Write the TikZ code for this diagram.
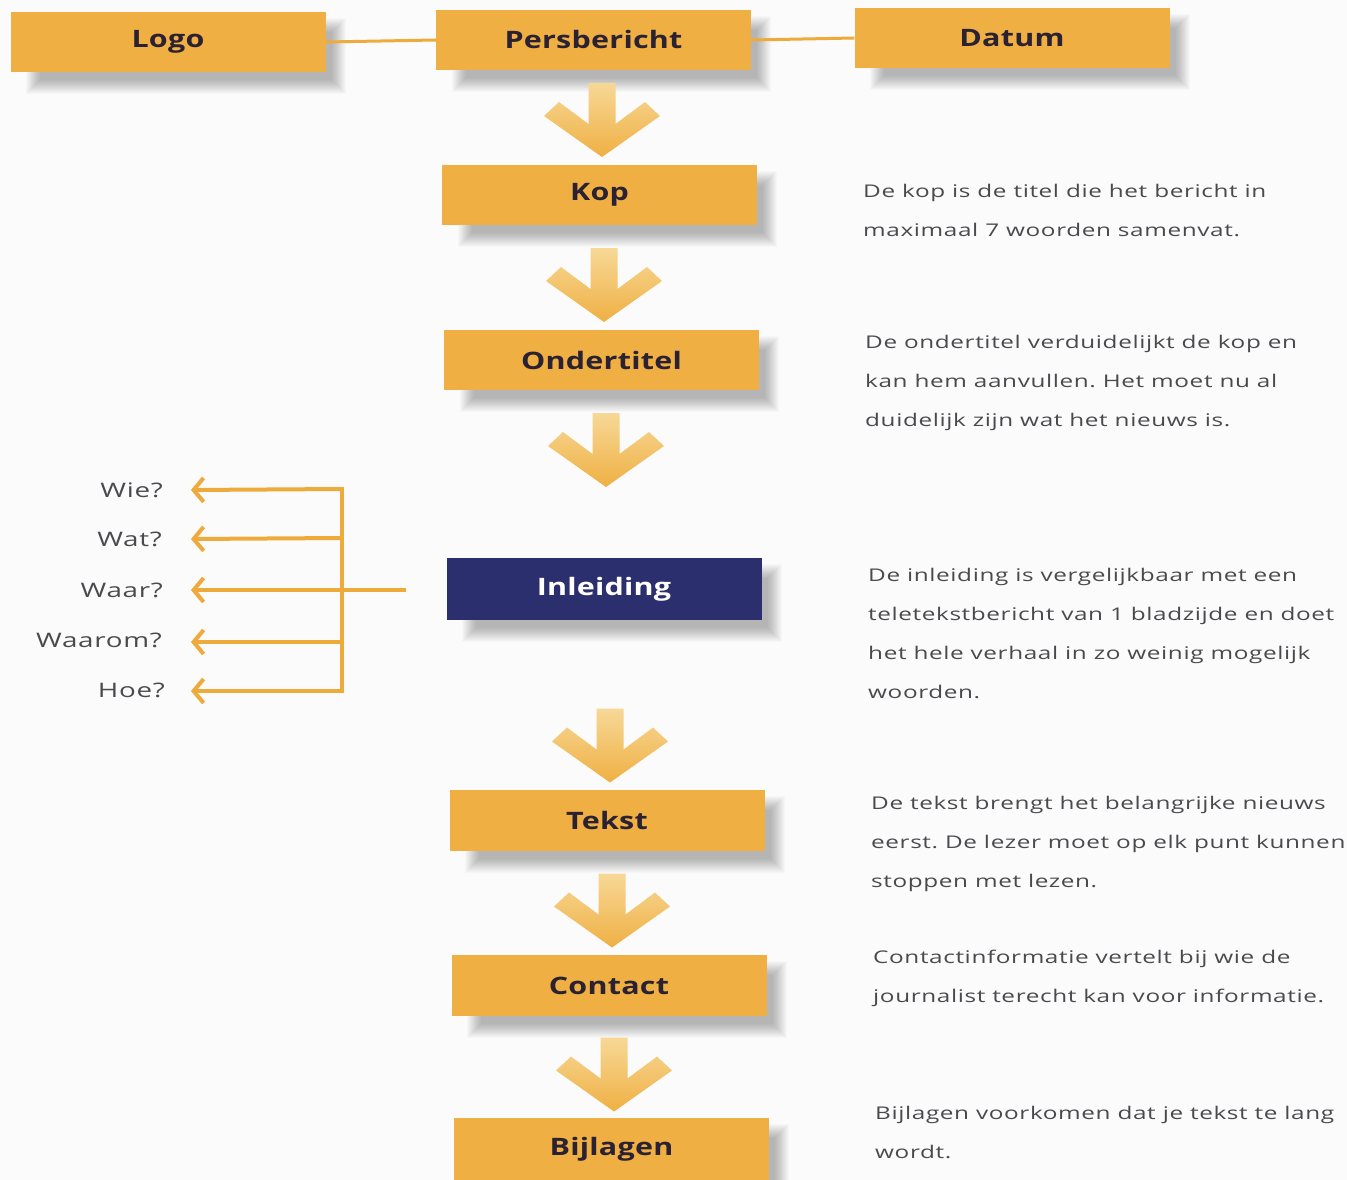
\documentclass[tikz,border=0pt]{standalone}
\usepackage{fontspec}
\setmainfont{Open Sans}
\newfontfamily\widefont[FakeStretch=1.39, LetterSpace=3.5]{Open Sans}
\newfontfamily\boxfont[FakeStretch=1.27, LetterSpace=1]{Open Sans}
\usetikzlibrary{arrows.meta,calc,backgrounds}
\definecolor{bg}{HTML}{FBFBFB}
\definecolor{boxor}{HTML}{F0AF42}
\definecolor{lineor}{HTML}{EFAA3C}
\definecolor{navy}{HTML}{2C2F6E}
\definecolor{labelc}{HTML}{2A2233}
\definecolor{txt}{HTML}{4A4A4E}
\definecolor{chtop}{HTML}{F7D897}
\definecolor{chbot}{HTML}{EFB043}
\newcommand\boxshadow[1]{%
  \foreach \r in {0,...,14}
    \fill[black, opacity=0.02] ($(#1.north west)+(30-\r,20-\r)$) rectangle ($(#1.south east)+(6+\r,8+\r)$);}
\frenchspacing
\begin{document}
\begin{tikzpicture}[x=1pt,y=-1pt,
  box/.style={fill=boxor, minimum width=315pt, minimum height=60pt, inner sep=0pt,
    font=\fontsize{24}{28}\boxfont\bfseries, text=labelc},
  desc/.style={anchor=west, align=left, inner sep=0pt, text=txt,
    font=\fontsize{17.5}{39}\widefont\frenchspacing},
  q/.style={anchor=east, inner sep=0pt, text=txt, font=\fontsize{20}{22}\widefont},
  conn/.style={draw=lineor, line width=3pt},
  qarrow/.style={draw=lineor, line width=4pt, -{Straight Barb[length=10pt,width=24pt,line width=4pt]}},
  chev/.pic={\path[top color=chtop, bottom color=chbot]
     (-13.5,-37) -- (13.5,-37) -- (13.5,4) -- (43,-18) -- (58,-4) -- (0,37)
     -- (-58,-4) -- (-43,-18) -- (-13.5,4) -- cycle;}
]
\path[use as bounding box] (0,0) rectangle (1347,1180);

% top row
\node[box] (logo) at (168,42) {Logo};
\node[box] (pers) at (593.5,40) {Persbericht};
\node[box] (datum) at (1012,38) {Datum};

% main column
\node[box] (kop) at (599.5,195) {Kop};
\node[box] (onder) at (601.5,360) {Ondertitel};
\node[box, fill=navy, text=white, minimum height=62pt] (inl) at (604,589) {Inleiding};
\node[box, minimum height=61pt] (tekst) at (607,820.5) {Tekst};
\node[box, minimum height=61pt] (contact) at (609,985.5) {Contact};
\node[box, minimum height=62pt] (bijl) at (611.5,1149) {Bijlagen};

\begin{scope}[on background layer]
  \fill[bg] (0,0) rectangle (1347,1180);
  \boxshadow{logo}\boxshadow{pers}\boxshadow{datum}\boxshadow{kop}\boxshadow{onder}
  \boxshadow{inl}\boxshadow{tekst}\boxshadow{contact}\boxshadow{bijl}
  \draw[conn] (logo.east) -- (pers.west);
  \draw[conn] (pers.east) -- (datum.west);
\end{scope}

% chevron arrows
\pic at (602,120) {chev};
\pic at (604,285) {chev};
\pic at (606,450) {chev};
\pic at (610,745.5) {chev};
\pic at (612,910.5) {chev};
\pic at (614,1074.5) {chev};

% descriptions
\node[desc] (dkop) at (863,210.5) {De kop is de titel die het bericht in\\maximaal 7 woorden samenvat.};
\node[desc] (donder) at (865,383) {De ondertitel verduidelijkt de kop en\\kan hem aanvullen. Het moet nu al\\duidelijk zijn wat het nieuws is.};
\node[desc] (dinl) at (868,633) {De inleiding is vergelijkbaar met een\\teletekstbericht van 1 bladzijde en doet\\het hele verhaal in zo weinig mogelijk\\woorden.};
\node[desc] (dtekst) at (871,844) {De tekst brengt het belangrijke nieuws\\eerst. De lezer moet op elk punt kunnen\\stoppen met lezen.};
\node[desc] (dcontact) at (873,978.5) {Contactinformatie vertelt bij wie de\\journalist terecht kan voor informatie.};
\node[desc] (dbijl) at (875,1132.5) {Bijlagen voorkomen dat je tekst te lang\\wordt.};

% questions
\node[q] (wie) at (163,490) {Wie?};
\node[q] (wat) at (162,539) {Wat?};
\node[q] (waar) at (163,590) {Waar?};
\node[q] (waarom) at (162,640) {Waarom?};
\node[q] (hoe) at (165,690) {Hoe?};

\coordinate (bt) at (342,489);
\coordinate (bb) at (342,691);
\coordinate (wstart) at (406,590);
\draw[conn, line width=4pt, line cap=rect] (bt) -- (bb);
\draw[qarrow] (bt) -- ($(wie.east)+(28,0)$);
\draw[qarrow] (342,538) -- ($(wat.east)+(29,0)$);
\draw[qarrow] (wstart) -- ($(waar.east)+(28,0)$);
\draw[qarrow] (342,642) -- ($(waarom.east)+(29,2)$);
\draw[qarrow] (bb) -- ($(hoe.east)+(26,1)$);
\end{tikzpicture}
\end{document}
